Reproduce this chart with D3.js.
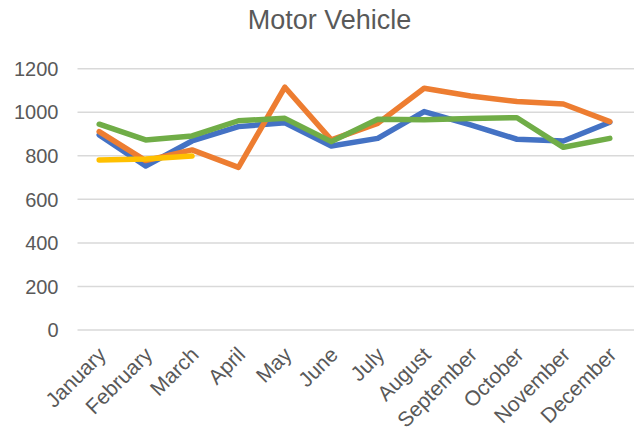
<!DOCTYPE html>
<html>
<head>
<meta charset="utf-8">
<script src="https://cdn.jsdelivr.net/npm/d3@7"></script>
<style>
  body { margin: 0; background: #fff; }
</style>
</head>
<body>
<div id="chart"></div>
<script>
const months = ["January", "February", "March", "April", "May", "June",
  "July", "August", "September", "October", "November", "December"];
const yTicks = [0, 200, 400, 600, 800, 1000, 1200];

const blueValues = [896, 753, 868, 934, 952, 845, 880, 1003, 942, 876, 868, 954];
const orangeValues = [911, 778, 827, 747, 1115, 873, 949, 1110, 1075, 1049, 1038, 957];
const greenValues = [945, 873, 891, 961, 972, 865, 968, 965, 971, 975, 839, 880];
const yellowValues = [781, 785, 799, null, null, null, null, null, null, null, null, null];

window.addEventListener("load", () => {
  const width = 634;
  const height = 427;
  const textColor = "#595959";
  const gridColor = "#d9d9d9";

  const series = [
    { values: blueValues, color: "#4472C4" },
    { values: orangeValues, color: "#ED7D31" },
    { values: greenValues, color: "#70AD47" },
    { values: yellowValues, color: "#FFC000" },
  ];

  const svg = d3.select("#chart")
    .append("svg")
    .attr("width", width)
    .attr("height", height)
    .style("font-family", "Arial, 'Liberation Sans', sans-serif");

  const x = d3.scalePoint()
    .domain(months)
    .range([76, 633])
    .padding(0.5);

  const y = d3.scaleLinear()
    .domain([0, 1200])
    .range([330, 68.7]);

  svg.append("text")
    .attr("x", 329.5)
    .attr("y", 29)
    .attr("text-anchor", "middle")
    .attr("font-size", "27px")
    .attr("fill", textColor)
    .text("Motor Vehicle");

  // gridlines + y labels
  svg.append("g")
    .selectAll("line")
    .data(yTicks)
    .join("line")
    .attr("x1", 77.5)
    .attr("x2", 634)
    .attr("y1", d => y(d))
    .attr("y2", d => y(d))
    .attr("stroke", gridColor)
    .attr("stroke-width", 1.5);

  svg.append("g")
    .selectAll("text")
    .data(yTicks)
    .join("text")
    .attr("x", 58.5)
    .attr("y", d => y(d))
    .attr("dy", "0.36em")
    .attr("text-anchor", "end")
    .attr("font-size", "20px")
    .attr("fill", textColor)
    .text(d => d);

  // x labels, rotated
  svg.append("g")
    .selectAll("text")
    .data(months)
    .join("text")
    .attr("transform", d => `translate(${x(d) + 8},${356}) rotate(-45)`)
    .attr("text-anchor", "end")
    .attr("font-size", "21px")
    .attr("fill", textColor)
    .text(d => d);

  const line = d3.line()
    .defined(d => d.v != null)
    .x(d => x(d.m))
    .y(d => y(d.v));

  series.forEach(s => {
    svg.append("path")
      .datum(months.map((m, i) => ({ m: m, v: s.values[i] })))
      .attr("d", line)
      .attr("fill", "none")
      .attr("stroke", s.color)
      .attr("stroke-width", 5.5)
      .attr("stroke-linejoin", "round")
      .attr("stroke-linecap", "round");
  });
});
</script>
</body>
</html>
